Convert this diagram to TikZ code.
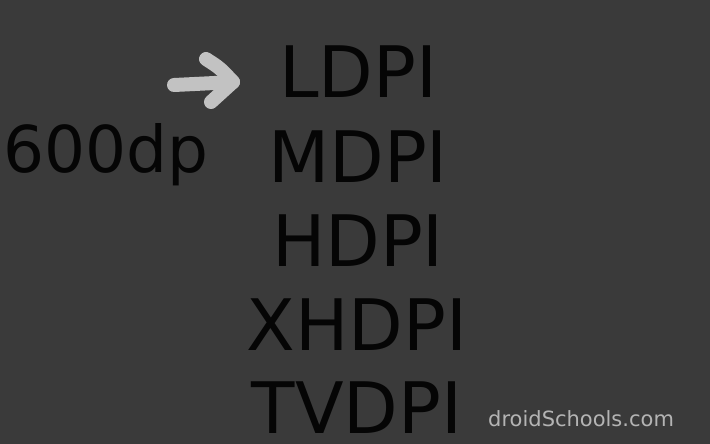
\documentclass[tikz,border=0pt]{standalone}
\usepackage{fontspec}
\setmainfont{DejaVu Sans}
\definecolor{bg}{HTML}{3A3A3A}
\definecolor{ink}{HTML}{050505}
\definecolor{stroke}{HTML}{C2C2C2}
\definecolor{mark}{HTML}{B4B4B4}
\begin{document}
\begin{tikzpicture}[x=1pt,y=-1pt,
  density/.style={anchor=base,inner sep=0pt,text=ink,font=\fontsize{71}{71}\selectfont},
  size/.style={anchor=base west,inner sep=0pt,text=ink,font=\fontsize{64.5}{64.5}\selectfont},
  credit/.style={anchor=base west,inner sep=0pt,text=mark,font=\fontsize{21}{21}\selectfont},
  pointer/.style={draw=stroke,line width=14pt,line cap=round,line join=round}]
\fill[bg] (0,0) rectangle (710,444);
\useasboundingbox (0,0) rectangle (710,444);
% screen size label
\node[size] (dp) at (3,172) {600dp};
% density buckets
\node[density] (ldpi) at (358,98) {LDPI};
\node[density] (mdpi) at (358,182) {MDPI};
\node[density] (hdpi) at (358,266) {HDPI};
\node[density] (xhdpi) at (357,350) {XHDPI};
\node[density] (tvdpi) at (357,433) {TVDPI};
% hand-drawn arrow pointing at the first bucket
\coordinate (tail) at (174,85);
\coordinate (tip) at (233,82);
\coordinate (wingA) at (206,59);
\coordinate (wingB) at (211,102);
\draw[pointer] (tail) .. controls (195,84) and (215,83) .. (tip);
\draw[pointer] (wingA) .. controls (220,68) .. (tip) .. controls (222,92) .. (wingB);
% credit
\node[credit] (site) at (488,426) {droidSchools.com};
\end{tikzpicture}
\end{document}
